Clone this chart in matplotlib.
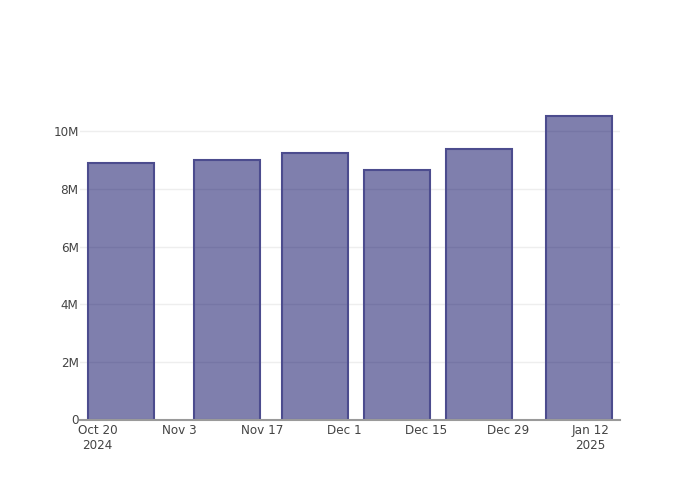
import matplotlib
matplotlib.use("Agg")
import matplotlib.pyplot as plt
import matplotlib.dates as mdates
import numpy as np
import datetime as dt

# Data
dates = ["2024-10-24", "2024-11-11", "2024-11-26", "2024-12-10", "2024-12-24", "2025-01-10"]
values = [8.90e6, 9.00e6, 9.25e6, 8.66e6, 9.39e6, 10.55e6]
tick_dates = ["2024-10-20", "2024-11-03", "2024-11-17", "2024-12-01", "2024-12-15", "2024-12-29", "2025-01-12"]
tick_labels = ["Oct 20\n2024", "Nov 3", "Nov 17", "Dec 1", "Dec 15", "Dec 29", "Jan 12\n2025"]
y_ticks = [0, 2e6, 4e6, 6e6, 8e6, 10e6]
y_labels = ["0", "2M", "4M", "6M", "8M", "10M"]

x = [mdates.date2num(dt.datetime.fromisoformat(d)) for d in dates]
xt = [mdates.date2num(dt.datetime.fromisoformat(d)) for d in tick_dates]

fig = plt.figure(figsize=(7, 5), dpi=100)
ax = fig.add_axes([80/700, 80.5/500, 540/700, 319.5/500])

width = 0.8 * 14
ax.bar(x, values, width=width, color=(0, 0, 93/255, 0.5), edgecolor="#4c4c8e",
       linewidth=1.5, zorder=3)

ax.set_xlim(x[0] - 7, x[-1] + 7)
ax.set_ylim(0, 11.09e6)

ax.set_xticks(xt)
ax.set_xticklabels(tick_labels, fontsize=8.64, color="#444444", linespacing=1.25)
ax.set_yticks(y_ticks)
ax.set_yticklabels(y_labels, fontsize=8.64, color="#444444")
ax.tick_params(axis="both", length=0)
ax.tick_params(axis="x", pad=3)
ax.tick_params(axis="y", pad=1)

ax.grid(axis="y", color="#eeeeee", linewidth=1, zorder=0)
for s in ["top", "right", "left"]:
    ax.spines[s].set_visible(False)
ax.spines["bottom"].set_color("#9a9a9a")
ax.spines["bottom"].set_linewidth(1.5)
ax.spines["bottom"].set_zorder(4)

fig.savefig("out.png", dpi=100)
